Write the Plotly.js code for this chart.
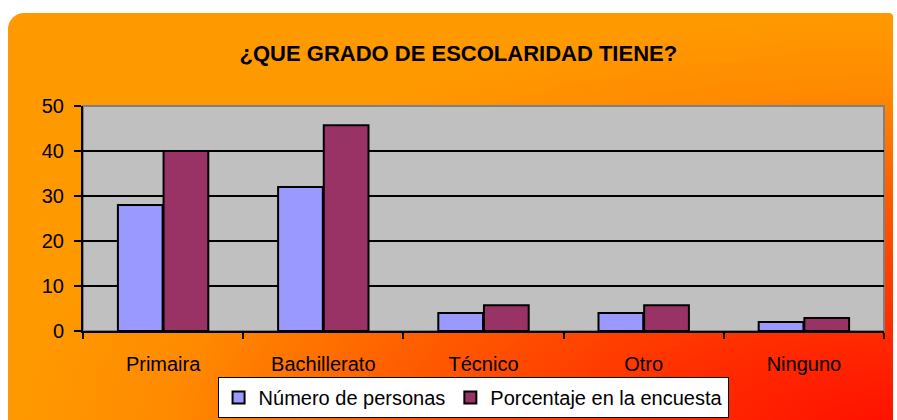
<!DOCTYPE html>
<html>
<head>
<meta charset="utf-8">
<script src="https://cdn.plot.ly/plotly-3.0.1.min.js"></script>
<style>
  html, body { margin: 0; padding: 0; background: #ffffff; width: 897px; height: 420px; overflow: hidden; }
  #bg {
    position: absolute; left: 8px; top: 13px; width: 885px; height: 430px;
    border-top-left-radius: 16px; border-top-right-radius: 4px;
    background: radial-gradient(ellipse farthest-corner at 100% 100%, #ff0c00 0%, #ff2e00 20%, #ff5a00 40%, #ff8a00 58%, #ff9900 70%, #ff9900 100%);
  }
  #chart { position: absolute; left: 0; top: 0; width: 897px; height: 420px; }
</style>
</head>
<body>
<div id="bg"></div>
<div id="chart"></div>
<script>
const categories = ["Primaira", "Bachillerato", "Técnico", "Otro", "Ninguno"];
const seriesNames = ["Número de personas", "Porcentaje en la encuesta"];
const personas = [28, 32, 4, 4, 2];
const porcentaje = [40, 45.7, 5.7, 5.7, 2.9];
const yTicks = [0, 10, 20, 30, 40, 50];

const font = "Liberation Sans, Arial, sans-serif";

const traces = [
  { type: "bar", name: seriesNames[0], x: categories, y: personas,
    marker: { color: "#9999ff", line: { color: "#000000", width: 2 } }, hoverinfo: "skip" },
  { type: "bar", name: seriesNames[1], x: categories, y: porcentaje,
    marker: { color: "#993366", line: { color: "#000000", width: 2 } }, hoverinfo: "skip" }
];

const layout = {
  width: 897, height: 420,
  paper_bgcolor: "rgba(0,0,0,0)",
  plot_bgcolor: "#c0c0c0",
  margin: { l: 83, r: 13, t: 106, b: 89, pad: 0, autoexpand: false },
  barmode: "group",
  bargap: 0.43,
  bargroupgap: 0.02,
  font: { family: font, color: "#000000", size: 20 },
  title: {
    text: "¿QUE GRADO DE ESCOLARIDAD TIENE?",
    font: { family: font, size: 22, color: "#000000", weight: "bold" },
    xref: "container", yref: "container",
    x: 0.511, xanchor: "center", y: 0.872, yanchor: "middle"
  },
  xaxis: {
    type: "category",
    showgrid: false,
    showline: true, linecolor: "#000000", linewidth: 2,
    ticks: "outside", tickson: "boundaries", ticklen: 6, tickwidth: 2, tickcolor: "#000000",
    tickfont: { family: font, size: 20, color: "#000000" },
    ticklabelstandoff: 14,
    fixedrange: true
  },
  yaxis: {
    range: [0, 50],
    tickvals: yTicks,
    ticktext: yTicks.map(String),
    showgrid: true, gridcolor: "#000000", gridwidth: 2,
    zeroline: false,
    showline: true, linecolor: "#000000", linewidth: 2,
    ticks: "outside", ticklen: 7, tickwidth: 2, tickcolor: "#000000",
    tickfont: { family: font, size: 20, color: "#000000" },
    ticklabelstandoff: 6,
    fixedrange: true
  },
  shapes: [
    { type: "rect", xref: "paper", yref: "paper", x0: 0, x1: 1, y0: 0, y1: 1,
      line: { color: "#808080", width: 2 }, layer: "below" }
  ],
  showlegend: true,
  legend: {
    orientation: "h",
    x: 0.168, xanchor: "left",
    y: -0.204, yanchor: "top",
    bgcolor: "#ffffff", bordercolor: "#000000", borderwidth: 1,
    font: { family: font, size: 20, color: "#000000" },
    itemwidth: 30,
    traceorder: "normal"
  }
};

Plotly.newPlot("chart", traces, layout, { displayModeBar: false, staticPlot: true });
</script>
</body>
</html>
